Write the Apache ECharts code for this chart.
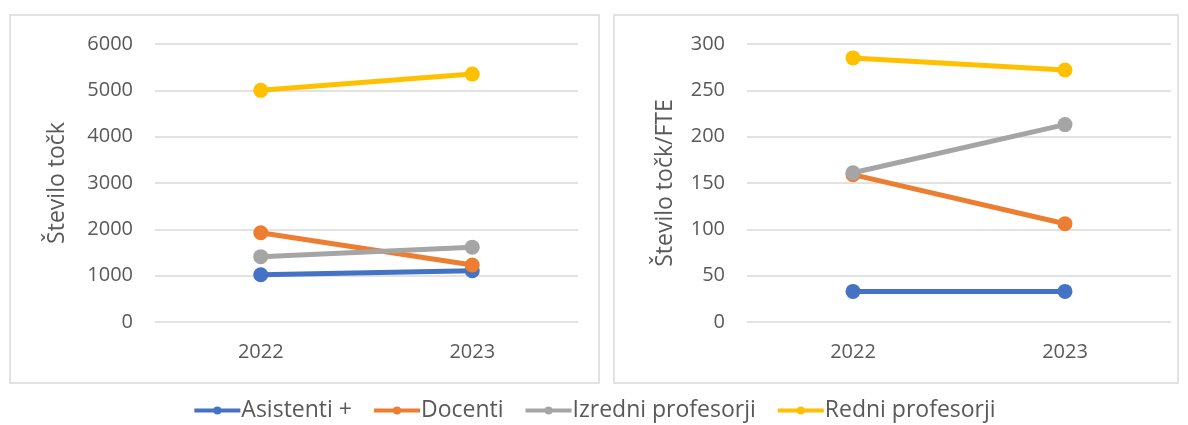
<!DOCTYPE html>
<html>
<head>
<meta charset="utf-8">
<script src="https://cdn.jsdelivr.net/npm/echarts@6/dist/echarts.min.js"></script>
<style>
  html, body { margin: 0; padding: 0; background: #fff; }
  #chart { width: 1188px; height: 425px; }
</style>
</head>
<body>
<div id="chart"></div>
<script>
// podatki
const years = ["2022", "2023"];
const seriesNames = ["Asistenti +", "Docenti", "Izredni profesorji", "Redni profesorji"];
const colors = ["#4472C4", "#ED7D31", "#A5A5A5", "#FFC000"];

// levi graf - število točk
const asistentiTocke = [1020, 1105];
const docentiTocke = [1925, 1230];
const izredniTocke = [1410, 1615];
const redniTocke = [5000, 5350];

// desni graf - število točk/FTE
const asistentiFte = [33, 33];
const docentiFte = [159, 106];
const izredniFte = [161, 213];
const redniFte = [285, 272];

const leftData = [asistentiTocke, docentiTocke, izredniTocke, redniTocke];
const rightData = [asistentiFte, docentiFte, izredniFte, redniFte];

const font = "'Open Sans', Lato, sans-serif";
const textColor = "#595959";

let chart = echarts.init(document.getElementById("chart"));

function xAxisFor(idx) {
  return {
    type: "category",
    gridIndex: idx,
    data: years,
    axisTick: { show: false },
    axisLine: { show: false },
    axisLabel: { color: textColor, fontSize: 20, fontFamily: font, margin: 20 },
    splitLine: { show: false },
  };
}

function yAxisFor(idx, max, interval, name, gap) {
  return {
    type: "value",
    gridIndex: idx,
    min: 0,
    max: max,
    interval: interval,
    name: name,
    nameLocation: "middle",
    nameGap: gap,
    nameTextStyle: { color: textColor, fontSize: 23, fontFamily: font },
    axisLine: { show: false },
    axisTick: { show: false },
    axisLabel: {
      color: textColor, fontSize: 20, fontFamily: font, margin: 22,
      formatter: (v) => String(v),
    },
    splitLine: { lineStyle: { color: "#D9D9D9", width: 1.5 } },
  };
}

let series = [];
seriesNames.forEach((name, i) => {
  [leftData, rightData].forEach((d, g) => {
    series.push({
      name: name,
      type: "line",
      xAxisIndex: g,
      yAxisIndex: g,
      data: d[i],
      symbol: "circle",
      symbolSize: 15,
      lineStyle: { width: 5, color: colors[i] },
      itemStyle: { color: colors[i] },
      emphasis: { disabled: true },
    });
  });
});

let option = {
  animation: false,
  color: colors,
  graphic: [
    { type: "rect", shape: { x: 10, y: 15, width: 589, height: 368 },
      style: { fill: "none", stroke: "#D9D9D9", lineWidth: 1.5 } },
    { type: "rect", shape: { x: 614, y: 15, width: 564, height: 368 },
      style: { fill: "none", stroke: "#D9D9D9", lineWidth: 1.5 } },
  ],
  legend: {
    data: seriesNames,
    bottom: -2,
    left: "center",
    itemWidth: 46,
    itemHeight: 10,
    itemGap: 20,
    lineStyle: { width: 4 },
    textStyle: { color: textColor, fontSize: 23, fontFamily: font, padding: [0, 0, 0, -4] },
  },
  grid: [
    { left: 155, top: 44, width: 423, height: 278 },
    { left: 747, top: 44, width: 424, height: 278 },
  ],
  xAxis: [xAxisFor(0), xAxisFor(1)],
  yAxis: [
    yAxisFor(0, 6000, 1000, "Število točk", 86),
    yAxisFor(1, 300, 50, "Število točk/FTE", 70),
  ],
  series: series,
};

chart.setOption(option);
</script>
</body>
</html>
